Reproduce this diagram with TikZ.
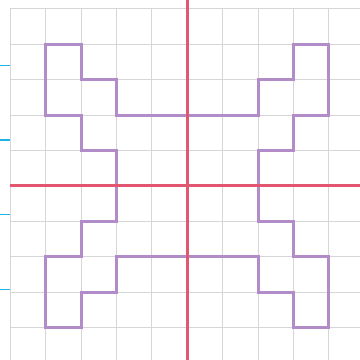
\documentclass[tikz,border=0pt]{standalone}
\usepackage{xcolor}
\usepackage{tikz}
\usetikzlibrary{positioning}
\definecolor{gridgray}{RGB}{214,214,214}
\definecolor{axisred}{RGB}{226,86,112}
\definecolor{shapepurple}{RGB}{178,140,200}
\definecolor{tickblue}{RGB}{30,180,230}

\begin{document}
\begin{tikzpicture}[scale=1.0]
  % styles
  \tikzstyle{gridline} = [draw=gridgray, line width=0.8pt]
  \tikzstyle{axisline} = [draw=axisred, line width=2.4pt]
  \tikzstyle{outline} = [draw=shapepurple, line width=2.4pt, line join=miter]
  \tikzstyle{sidetick} = [draw=tickblue, line width=1.2pt]

  % picture frame
  \useasboundingbox (-5.29,-4.92) rectangle (4.88,5.25);
  \clip (-5.29,-4.92) rectangle (4.88,5.25);

  % grid
  \foreach \y in {-4,...,5}
    \draw[gridline] (-5,\y) -- (5.5,\y);
  \foreach \x in {-5,...,4}
    \draw[gridline] (\x,-5.5) -- (\x,5);

  % ticks on the left
  \foreach \t in {3.40,1.30,-0.81,-2.93}
    \draw[sidetick] (-5.29,\t) -- (-5.02,\t);

  % the figure
  \draw[outline] (-4,4) -- (-3,4) -- (-3,3) -- (-2,3) -- (-2,2) -- (2,2)
    -- (2,3) -- (3,3) -- (3,4) -- (4,4) -- (4,2) -- (3,2) -- (3,1)
    -- (2,1) -- (2,-1) -- (3,-1) -- (3,-2) -- (4,-2) -- (4,-4) -- (3,-4)
    -- (3,-3) -- (2,-3) -- (2,-2) -- (-2,-2) -- (-2,-3) -- (-3,-3)
    -- (-3,-4) -- (-4,-4) -- (-4,-2) -- (-3,-2) -- (-3,-1) -- (-2,-1)
    -- (-2,1) -- (-3,1) -- (-3,2) -- (-4,2) -- cycle;

  % axes
  \draw[axisline] (-5,0) -- (5.5,0);
  \draw[axisline] (0,-5.5) -- (0,5.5);

\end{tikzpicture}
\end{document}
